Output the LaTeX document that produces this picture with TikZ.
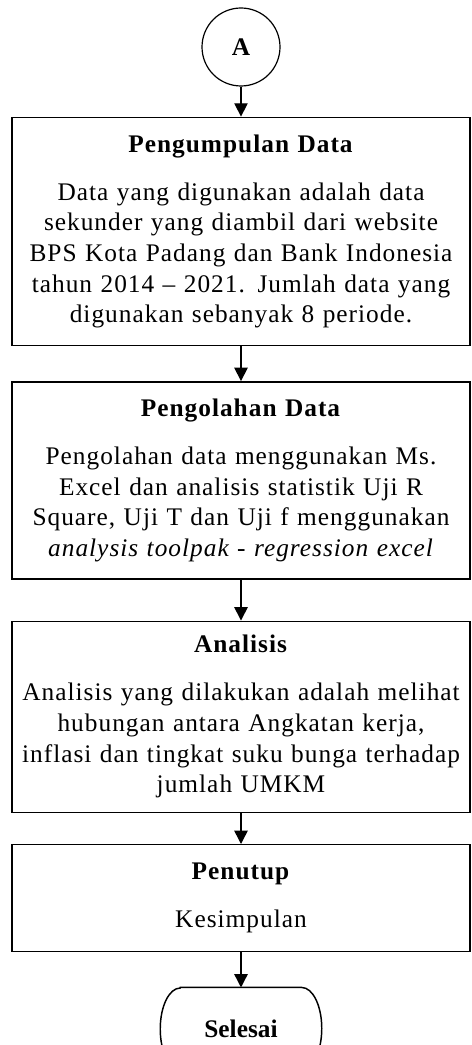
\documentclass[tikz,border=0pt]{standalone}
\usepackage{fontspec}
\setmainfont{Liberation Serif}
\newfontfamily\bodyfont[LetterSpace=4]{Liberation Serif}
\usetikzlibrary{arrows.meta, positioning}

\begin{document}
\begin{tikzpicture}[
  x=0.75pt, y=-0.75pt,
  stage/.style={draw, rectangle, line width=1.1pt, text width=330pt, inner xsep=6.75pt, inner ysep=0pt, align=center, font=\fontsize{19}{23}\selectfont\bodyfont},
  conn/.style={draw, circle, line width=0.9pt, minimum size=58.5pt, inner sep=0pt, font=\fontsize{19}{23}\selectfont\bfseries},
  term/.style={rectangle, minimum width=120.75pt, minimum height=61.5pt, inner sep=0pt, font=\fontsize{19}{23}\selectfont\bfseries},
  >={Triangle[length=10pt, width=10pt]}
]
\useasboundingbox (0,0) rectangle (471,1045);

\node[conn] (start) at (241,47) {A};
\node[stage, minimum height=171pt, below=22.5pt of start] (collect) {\textbf{Pengumpulan Data}\\[13pt]
  Data yang digunakan adalah data\\
  sekunder yang diambil dari website\\
  BPS Kota Padang dan Bank Indonesia\\
  tahun 2014 \textendash{} 2021. Jumlah data yang\\
  digunakan sebanyak 8 periode.};
\node[stage, minimum height=147.75pt, below=26.25pt of collect] (process) {\textbf{Pengolahan Data}\\[13pt]
  Pengolahan data menggunakan Ms.\\
  Excel dan analisis statistik Uji R\\
  Square, Uji T dan Uji f menggunakan\\
  \textit{analysis toolpak - regression excel}};
\node[stage, minimum height=143.25pt, below=30.75pt of process] (analysis) {\textbf{Analisis}\\[13pt]
  Analisis yang dilakukan adalah melihat\\
  hubungan antara Angkatan kerja,\\
  inflasi dan tingkat suku bunga terhadap\\
  jumlah UMKM};
\node[stage, minimum height=80.25pt, below=23.25pt of analysis] (closing) {\textbf{Penutup}\\[13pt]
  Kesimpulan};
\node[term, below=26.25pt of closing] (finish) {Selesai};

% terminator outline
\draw[line width=1.1pt] ([xshift=15pt]finish.north west) -- ([xshift=-15pt]finish.north east)
  arc[start angle=90, end angle=-90, x radius=15pt, y radius=30.75pt]
  -- ([xshift=15pt]finish.south west)
  arc[start angle=270, end angle=90, x radius=15pt, y radius=30.75pt] -- cycle;

\draw[->, line width=1.1pt] (start) -- (collect);
\draw[->, line width=1.1pt] (collect) -- (process);
\draw[->, line width=1.1pt] (process) -- (analysis);
\draw[->, line width=1.1pt] (analysis) -- (closing);
\draw[->, line width=1.1pt] (closing) -- (finish);
\end{tikzpicture}
\end{document}
